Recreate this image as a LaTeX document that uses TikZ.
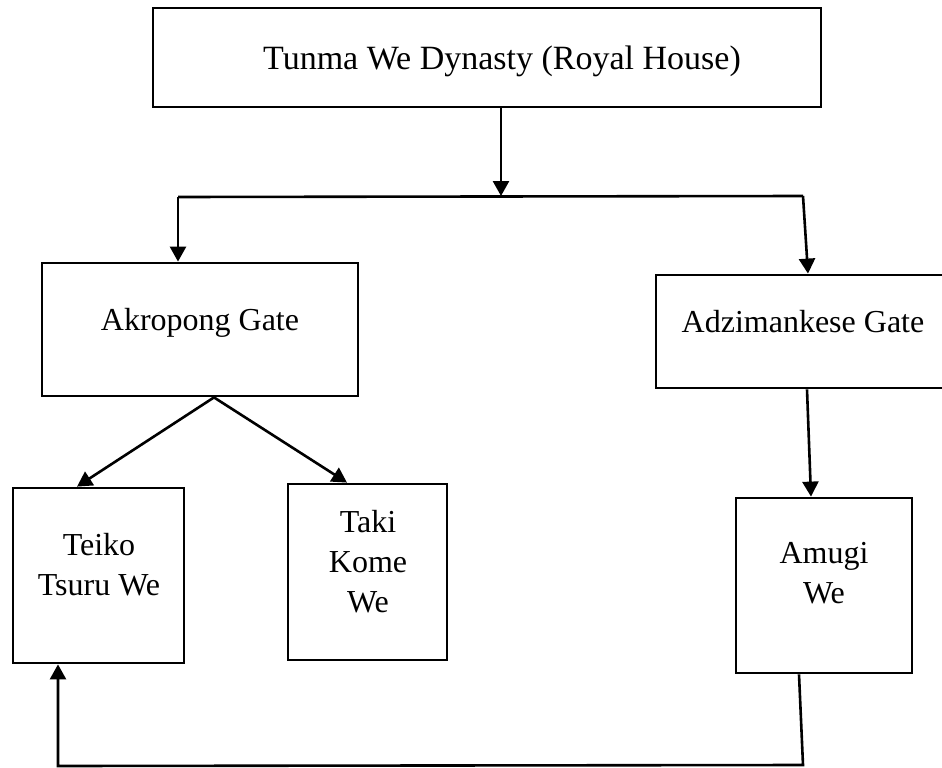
\documentclass[tikz,border=0pt]{standalone}
\usepackage{fontspec}
\setmainfont{Liberation Serif}
\usetikzlibrary{arrows.meta}
\begin{document}
\begin{tikzpicture}[x=1pt,y=-1pt,
  box/.style={draw, line width=2.8pt, inner sep=0pt},
  lbl/.style={anchor=base, inner sep=0pt, font=\fontsize{32}{40}\selectfont},
  conn/.style={line width=2.6pt, -{Triangle[length=15pt,width=16pt]}},
  plain/.style={line width=2.6pt}]
\useasboundingbox (0,0) rectangle (942,768);
\fill[white] (0,0) rectangle (942,768);
% boxes
\node[box, minimum width=668pt, minimum height=99pt] (top) at (487,57.5) {};
\node[box, minimum width=316pt, minimum height=133pt] (akro) at (200,329.5) {};
\node[box, minimum width=290pt, minimum height=113pt] (adzi) at (801,331.5) {};
\node[box, minimum width=171pt, minimum height=175pt] (teiko) at (98.5,575.5) {};
\node[box, minimum width=159pt, minimum height=176pt] (taki) at (367.5,572) {};
\node[box, minimum width=176pt, minimum height=175pt] (amugi) at (824,585.5) {};
% texts
\node[lbl, font=\fontsize{34}{40}\selectfont] (topT) at (502,70) {Tunma We Dynasty (Royal House)};
\node[lbl] (akroT) at (200,330) {Akropong Gate};
\node[lbl] (adziT) at (803,332) {Adzimankese Gate};
\node[lbl] (teikoT) at (99,555) {\begin{tabular}[t]{@{}c@{}}Teiko\\Tsuru We\end{tabular}};
\node[lbl] (takiT) at (368,532) {\begin{tabular}[t]{@{}c@{}}Taki\\Kome\\We\end{tabular}};
\node[lbl] (amugiT) at (824,563) {\begin{tabular}[t]{@{}c@{}}Amugi\\We\end{tabular}};
% connectors
\coordinate (j) at (501,196);
\coordinate (hl) at (178,197);
\coordinate (hr) at (803,196);
\coordinate (br) at (803,765);
\coordinate (bl) at (58,766);
\draw[conn] (top.south -| j) -- (j);
\draw[plain] (hl) -- (hr);
\draw[conn] (hl) -- (akro.north -| hl);
\draw[conn] (hr) -- ([xshift=7pt]adzi.north);
\draw[conn] ([xshift=14pt]akro.south) -- ([xshift=-21.5pt]teiko.north);
\draw[conn] ([xshift=14pt]akro.south) -- ([xshift=-20.5pt]taki.north);
\draw[conn] ([xshift=6pt]adzi.south) -- ([xshift=-13pt]amugi.north);
\draw[conn] ([xshift=-25pt]amugi.south) -- (br) -- (bl) -- ([xshift=-40.5pt]teiko.south);
\end{tikzpicture}
\end{document}
